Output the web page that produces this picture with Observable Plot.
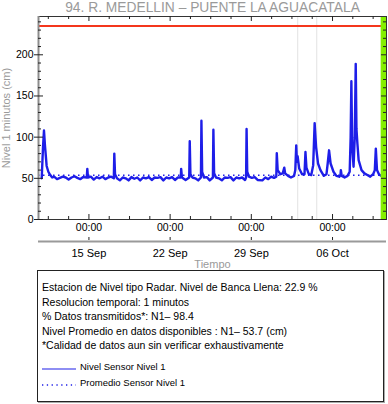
<!DOCTYPE html>
<html><head><meta charset="utf-8">
<script src="https://cdn.jsdelivr.net/npm/d3@7"></script>
<script src="https://cdn.jsdelivr.net/npm/@observablehq/plot@0.6"></script>
<style>
body{margin:0;background:#fff;font-family:"Liberation Sans",Arial,Helvetica,sans-serif;}
#wrap{position:relative;width:388px;height:404px;overflow:hidden;}
#chart svg{display:block;}
#box{position:absolute;left:37px;top:270px;width:347px;height:132px;box-sizing:border-box;border:1px solid #222;box-shadow:1px 1px 0 #aaa;padding:9px 0 0 4px;color:#000;}
.ln{font-size:10.5px;line-height:14.5px;height:14.5px;white-space:nowrap;}
.lg{font-size:9.5px;line-height:16px;height:16px;white-space:nowrap;display:flex;align-items:center;}
.lg svg{margin-right:4px;}
</style></head>
<body>
<div id="wrap"><div id="chart"></div><div id="box"></div></div>
<script>
const titulo = "94. R. MEDELLIN – PUENTE LA AGUACATALA";
const ejeY = "Nivel 1 minutos (cm)";
const ejeX = "Tiempo";
const dominioX = ["2023-09-10T15:40", "2023-10-10T15:40"];
const dominioY = [0, 246.5];
const ticksMayoresX = ["2023-09-15T00:00","2023-09-22T00:00","2023-09-29T00:00","2023-10-06T00:00"];
const ticksMenoresX = ["2023-09-11T12:00","2023-09-13T06:00","2023-09-16T18:00","2023-09-18T12:00","2023-09-20T06:00",
  "2023-09-23T18:00","2023-09-25T12:00","2023-09-27T06:00","2023-09-30T18:00","2023-10-02T12:00","2023-10-04T06:00",
  "2023-10-07T18:00","2023-10-09T12:00"];
const ticksMayoresY = [0,50,100,150,200];
const ticksMenoresY = [10,20,30,40,60,70,80,90,110,120,130,140,160,170,180,190,210,220,230,240];
const bancaLlena = 235;
const promedio = 53.7;
const huecos = ["2023-10-03T00:00","2023-10-04T15:20"];
const ultimoDato = "2023-10-10T04:35";
const nivel = [
["2023-09-10T22:20",50],["2023-09-11T01:00",88],["2023-09-11T03:00",108],["2023-09-11T05:00",90],
["2023-09-11T08:30",65],["2023-09-11T12:00",58],["2023-09-11T16:00",54],["2023-09-11T20:00",51],
["2023-09-12T00:00",52],["2023-09-12T06:00",49],["2023-09-12T12:00",50.5],["2023-09-12T18:00",52],
["2023-09-13T00:00",51],["2023-09-13T06:00",48.5],["2023-09-13T12:00",51],["2023-09-13T18:00",52.5],
["2023-09-14T00:00",50.5],["2023-09-14T06:00",49],["2023-09-14T12:00",51.5],["2023-09-14T19:30",51],
["2023-09-14T20:40",61.5],["2023-09-14T22:00",51],["2023-09-15T04:00",52],["2023-09-15T10:00",48.5],
["2023-09-15T16:00",51.5],["2023-09-15T22:00",50],["2023-09-16T04:00",52],["2023-09-16T10:00",49],
["2023-09-16T16:00",51],["2023-09-16T22:00",52],["2023-09-17T03:30",50],["2023-09-17T04:30",80],
["2023-09-17T06:00",55],["2023-09-17T10:00",50],["2023-09-17T16:00",47.5],["2023-09-17T22:00",51],
["2023-09-18T04:00",50],["2023-09-18T10:00",47.5],["2023-09-18T16:00",51.5],["2023-09-18T22:00",49.5],
["2023-09-19T04:00",51],["2023-09-19T10:00",47.5],["2023-09-19T16:00",51],["2023-09-19T22:00",50],
["2023-09-20T04:00",51.5],["2023-09-20T10:00",48],["2023-09-20T16:00",51],["2023-09-20T22:00",50.5],
["2023-09-21T04:00",51.5],["2023-09-21T10:00",47.5],["2023-09-21T16:00",51],["2023-09-21T22:00",50],
["2023-09-22T04:00",51.5],["2023-09-22T10:00",48],["2023-09-22T16:00",51],["2023-09-22T22:00",51],
["2023-09-22T22:50",61.5],["2023-09-23T00:30",51],["2023-09-23T08:00",48],["2023-09-23T15:30",51],
["2023-09-23T16:35",95],["2023-09-23T18:00",55],["2023-09-23T22:00",51],["2023-09-24T04:00",50],
["2023-09-24T10:00",47.5],["2023-09-24T15:45",51],["2023-09-24T16:45",120],["2023-09-24T18:15",58],
["2023-09-24T22:00",51],["2023-09-25T04:00",51.5],["2023-09-25T10:00",47.5],["2023-09-25T16:30",51],
["2023-09-25T17:30",109],["2023-09-25T19:00",56],["2023-09-25T23:00",51],["2023-09-26T05:00",50],
["2023-09-26T11:00",47.5],["2023-09-26T17:00",51],["2023-09-26T23:00",50.5],["2023-09-27T05:00",51.5],
["2023-09-27T11:00",47.5],["2023-09-27T17:00",51],["2023-09-27T23:00",50],["2023-09-28T05:00",51],
["2023-09-28T11:00",48],["2023-09-28T13:10",51],["2023-09-28T14:10",110],["2023-09-28T15:30",58],
["2023-09-28T19:00",52],["2023-09-29T01:00",50.5],["2023-09-29T07:00",51.5],["2023-09-29T13:00",48],
["2023-09-29T22:50",47.5],["2023-09-30T05:00",51],["2023-09-30T11:00",49],["2023-09-30T17:00",52],
["2023-09-30T23:00",50.5],["2023-10-01T03:40",52],["2023-10-01T04:40",80.5],["2023-10-01T06:30",60],
["2023-10-01T12:00",55],["2023-10-01T17:00",56],["2023-10-01T20:10",63],["2023-10-01T22:00",56],
["2023-10-02T04:00",53],["2023-10-02T10:00",51],["2023-10-02T16:30",53],["2023-10-02T19:00",60],
["2023-10-02T20:55",90],["2023-10-02T22:20",70],["2023-10-02T23:45",77],["2023-10-03T03:00",62],
["2023-10-03T09:00",55],["2023-10-03T14:00",55],["2023-10-03T16:00",82],["2023-10-03T18:00",63],
["2023-10-03T23:00",55],["2023-10-04T04:00",54],["2023-10-04T08:00",66],["2023-10-04T11:00",117],
["2023-10-04T14:00",88],["2023-10-04T18:00",68],["2023-10-04T23:00",60],["2023-10-05T06:00",53],
["2023-10-05T11:30",55],["2023-10-05T14:00",68],["2023-10-05T16:50",84],["2023-10-05T20:00",68],
["2023-10-06T02:00",58],["2023-10-06T08:00",53],["2023-10-06T14:00",52],["2023-10-06T16:30",54],
["2023-10-06T17:15",60],["2023-10-06T19:00",53],["2023-10-07T01:00",51],["2023-10-07T07:00",53],
["2023-10-07T11:30",58],["2023-10-07T13:30",100],["2023-10-07T15:00",168],["2023-10-07T16:40",90],
["2023-10-07T19:30",64],["2023-10-07T22:00",100],["2023-10-08T00:00",189],["2023-10-08T01:30",110],
["2023-10-08T03:30",92],["2023-10-08T06:00",72],["2023-10-08T12:00",60],["2023-10-08T18:00",56],
["2023-10-09T00:00",54],["2023-10-09T06:00",52],["2023-10-09T12:00",55],["2023-10-09T15:30",60],
["2023-10-09T17:35",86],["2023-10-09T20:00",60],["2023-10-10T00:00",55],["2023-10-10T04:30",53]
];
const textos = [
  "Estacion de Nivel tipo Radar. Nivel de Banca Llena: 22.9 %",
  "Resolucion temporal: 1 minutos",
  "% Datos transmitidos*: N1\u2013 98.4",
  "Nivel Promedio en datos disponibles : N1\u2013 53.7 (cm)",
  "*Calidad de datos aun sin verificar exhaustivamente"
];
const leyenda = ["Nivel Sensor Nivel 1", "Promedio Sensor Nivel 1"];

const T = s => new Date(s + ":00Z");
const W = 388, H = 268, mL = 38, mR = 2, mT = 16, mB = 49;
const iW = W - mL - mR, iH = H - mT - mB;
const azul = "#1e1ee8", gris = "#9a9a9a", tk = "#222";
const xDom = dominioX.map(T);
const xMaj = ticksMayoresX.map(T), xMin = ticksMenoresX.map(T);

const chart = Plot.plot({
  width: W, height: H, marginLeft: mL, marginRight: mR, marginTop: mT, marginBottom: mB,
  style: {fontFamily: '"Liberation Sans",Arial,Helvetica,sans-serif', fontSize: "10px", background: "white", overflow: "visible"},
  x: {type: "utc", domain: xDom},
  y: {domain: dominioY},
  marks: [
    Plot.ruleX(huecos.map(T), {stroke: "#e2e2e2", strokeWidth: 1}),
    Plot.ruleY([bancaLlena], {stroke: "#f4361c", strokeWidth: 2}),
    Plot.ruleY([promedio], {stroke: azul, strokeWidth: 1.5, strokeDasharray: "1.5,3.5"}),
    Plot.line(nivel, {x: d => T(d[0]), y: d => d[1], stroke: azul, strokeWidth: 2.4, strokeLinejoin: "round"}),
    Plot.rect([[T(ultimoDato), xDom[1]]], {x1: d => d[0], x2: d => d[1], fill: "#84f000"}),
    Plot.frame({stroke: "#333", strokeWidth: 1}),
    Plot.ruleX([xDom[0]], {stroke: "#8c8c8c", strokeWidth: 2}),
    Plot.tickX(xMaj, {insetTop: iH - 5, stroke: tk}),
    Plot.tickX(xMin, {insetTop: iH - 3, stroke: tk}),
    Plot.tickX(xMaj, {insetBottom: iH - 5, stroke: tk}),
    Plot.tickX(xMin, {insetBottom: iH - 3, stroke: tk}),
    Plot.tickY(ticksMayoresY, {insetRight: iW - 9, dx: -4, stroke: tk}),
    Plot.tickY(ticksMenoresY, {insetRight: iW - 3, stroke: tk}),
    Plot.tickY(ticksMayoresY, {insetLeft: iW - 5, stroke: tk}),
    Plot.tickY(ticksMenoresY, {insetLeft: iW - 3, stroke: tk}),
    Plot.axisY({ticks: ticksMayoresY, tickSize: 0, tickPadding: 5, label: null, fontSize: 10.5}),
    Plot.axisX({ticks: xMaj, tickFormat: d3.utcFormat("%H:%M"), tickSize: 0, tickPadding: 4, label: null, fontSize: 10.5}),
    Plot.ruleY([dominioY[0]], {dy: 22, stroke: gris, strokeWidth: 2}),
    Plot.tickX(xMaj, {insetTop: iH - 3, dy: 21, stroke: tk}),
    Plot.text(xMaj, {x: d => d, text: d3.utcFormat("%d %b"), frameAnchor: "bottom", lineAnchor: "middle", dy: 33.5, fontSize: 11}),
    Plot.text([ejeX], {frameAnchor: "bottom", lineAnchor: "middle", dy: 44.5, fill: gris, fontSize: 11}),
    Plot.text([ejeY], {frameAnchor: "left", textAnchor: "middle", lineAnchor: "middle", dx: -32, rotate: -90, fill: gris, fontSize: 11}),
    Plot.text([titulo], {frameAnchor: "top", lineAnchor: "middle", dy: -8.5, fill: gris, fontSize: 13.8})
  ]
});
document.getElementById("chart").append(chart);

const box = document.getElementById("box");
for (const t of textos) {
  const d = document.createElement("div"); d.className = "ln"; d.textContent = t; box.append(d);
}
const sp = document.createElement("div"); sp.style.height = "6.5px"; box.append(sp);
leyenda.forEach((t, i) => {
  const d = document.createElement("div"); d.className = "lg";
  d.innerHTML = `<svg width="34" height="8"><line x1="0" x2="34" y1="6" y2="6" stroke="${azul}" stroke-width="${i ? 1.3 : 1.2}" ${i ? 'stroke-dasharray="1.3,3.5"' : ''}/></svg>`;
  const s = document.createElement("span"); s.textContent = t; d.append(s);
  box.append(d);
});
</script>
</body></html>
